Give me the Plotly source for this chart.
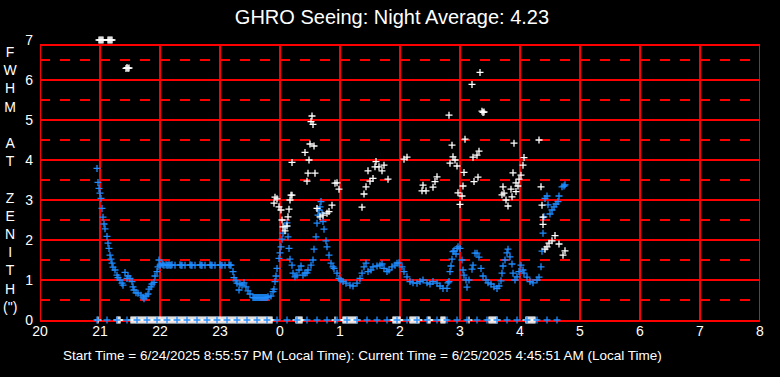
import plotly.graph_objects as go

# time axis: minutes after 20:00 local time (0..720 -> 20:00..08:00)
tick_minutes = [0, 60, 120, 180, 240, 300, 360, 420, 480, 540, 600, 660, 720]
tick_labels = ["20", "21", "22", "23", "0", "1", "2", "3", "4", "5", "6", "7", "8"]
y_ticks = [0, 1, 2, 3, 4, 5, 6, 7]

# blue series (seeing measurements)
blue_min = [57, 58, 59, 60, 61, 62, 63, 64, 65, 67, 68, 69, 70, 71, 72, 73, 75, 77, 78, 80,
            82, 83, 85, 87, 88, 90, 92, 93, 94, 96, 98, 101, 103, 104, 106, 108, 109, 111, 112, 114,
            115, 117, 118, 119, 120, 122, 123, 124,
            126, 127, 128, 129, 130, 131, 132, 135, 140, 141, 142, 145, 150, 151, 152, 155,
            160, 161, 162, 165, 170, 171, 172, 175, 180, 181, 182, 185, 189, 190, 191,
            193, 194, 196, 197, 199, 200, 202, 204, 206, 208, 210, 213, 214, 215, 216, 217, 218, 219,
            220, 221, 222, 223, 224, 225, 226, 227, 228, 231, 233, 234, 235, 236, 237, 239, 240,
            241, 242, 243, 245, 247, 248, 249, 250, 252, 253, 255, 257, 259, 261, 263, 265, 267,
            268, 271, 273, 274, 276, 277, 278, 279, 280, 281, 282, 283, 284, 286, 287, 289, 291,
            293, 294, 297, 299, 301, 303, 306, 310, 313, 317, 320, 322, 324, 326, 328, 331, 333,
            337, 340, 342, 344, 347, 349, 352, 355, 357, 359, 362, 364, 367, 370, 373, 377, 380,
            383, 387, 390, 393, 397, 400, 403, 407, 408, 409, 410, 411, 412, 413, 414, 416, 417,
            418, 420, 422, 423, 424, 426, 427, 429, 432, 433, 435, 437, 439, 441, 443, 446, 448,
            451, 454, 457, 459, 461, 462, 463, 465, 467, 468, 470, 472, 473, 475, 477, 479, 481,
            483, 484, 487, 490, 493, 497, 499, 501, 502, 503, 504, 505, 507, 508, 510, 512, 514,
            516, 518, 519, 522, 524, 525]
blue_val = [3.79, 3.44, 3.29, 3.17, 3.04, 2.79, 2.57, 2.40, 2.28, 2.09, 1.92, 1.79, 1.62, 1.52, 1.42, 1.32, 1.25, 1.12, 1.06, 1.00,
            0.92, 0.87, 1.19, 1.04, 1.10, 1.04, 0.96, 0.83, 0.75, 0.68, 0.67, 0.62, 0.57, 0.53, 0.60, 0.65, 0.77, 0.83, 0.90, 0.94,
            1.10, 1.21, 1.33, 1.50, 1.37, 1.40, 1.38, 1.37,
            1.38, 1.37, 1.37, 1.38, 1.37, 1.37, 1.38, 1.37, 1.38, 1.37, 1.37, 1.37, 1.38, 1.37, 1.37, 1.37,
            1.38, 1.37, 1.37, 1.37, 1.38, 1.37, 1.37, 1.37, 1.38, 1.37, 1.37, 1.37, 1.38, 1.37, 1.37,
            1.21, 1.06, 0.98, 0.92, 0.75, 0.90, 0.87, 0.93, 0.83, 0.73, 0.65, 0.56, 0.56, 0.56, 0.56, 0.56, 0.56, 0.56,
            0.56, 0.56, 0.56, 0.56, 0.56, 0.56, 0.56, 0.56, 0.58, 0.60, 0.71, 0.77, 0.96, 1.10, 1.29, 1.54, 1.68,
            1.83, 2.02, 2.17, 2.33, 2.43, 2.08, 1.79, 1.52, 1.37, 1.17, 1.08, 1.12, 1.25, 1.35, 1.12, 1.17, 1.18,
            1.25, 1.37, 1.50, 1.77, 2.08, 2.42, 2.62, 2.75, 2.83, 2.96, 2.67, 2.46, 2.27, 1.98, 1.83, 1.62, 1.42,
            1.33, 1.29, 1.17, 1.04, 1.00, 0.96, 0.92, 0.87, 0.85, 0.92, 1.04, 1.17, 1.33, 1.42, 1.21, 1.25, 1.33,
            1.35, 1.37, 1.40, 1.29, 1.21, 1.25, 1.33, 1.37, 1.42, 1.43, 1.33, 1.21, 1.08, 0.96, 0.93, 0.92, 0.96,
            1.00, 0.93, 0.90, 0.96, 0.92, 0.85, 0.79, 0.79, 0.93, 0.96, 1.21, 1.35, 1.52, 1.71, 1.73, 1.65, 1.79,
            1.83, 1.79, 1.50, 1.25, 1.12, 1.00, 0.82, 1.00, 1.27, 1.37, 1.67, 1.67, 1.57, 1.29, 1.10, 1.00, 0.93,
            0.90, 0.83, 0.79, 0.85, 0.98, 1.17, 1.35, 1.50, 1.68, 1.77, 1.58, 1.40, 1.17, 1.00, 1.08, 1.21, 1.37,
            1.25, 1.17, 1.07, 0.96, 0.93, 1.00, 1.07, 1.33, 1.72, 2.17, 2.58, 3.04, 3.10, 2.88, 2.65, 2.75, 2.83,
            2.90, 2.96, 3.10, 3.33, 3.35, 3.38]

# blue markers sitting on the zero line
blue_zero_min = [57, 67, 77, 87, 97, 107, 117, 127, 137, 147, 157, 167, 177, 187, 197, 207, 217, 227,
                 237, 247, 257, 267, 277, 287, 297, 307, 317, 327, 337, 347, 357, 367, 377, 387, 397,
                 407, 417, 427, 437, 447, 457, 467, 477, 487, 497, 507, 517]
blue_zero_val = [0] * len(blue_zero_min)

# white series (second seeing estimate)
white_min = [59, 60, 61, 62, 63, 68, 69, 70, 71, 72, 86, 87, 88, 89,
             234, 235, 237, 239, 241, 242, 243, 245, 247, 248, 249, 250, 251, 252, 252,
             265, 267, 268, 269, 270, 271, 272, 273, 274, 275,
             277, 280, 283, 287, 289, 292, 295, 297, 299,
             322, 324, 326, 328, 330, 333, 335, 336, 339, 342, 344, 348, 364, 367,
             382, 383, 386, 393, 395, 397, 409, 410, 412, 413, 415, 417, 418, 420, 422, 423, 424,
             425, 432, 433, 434, 437, 438, 439, 440, 442, 443, 444,
             462, 463, 464, 466, 468, 471, 472, 473, 474, 476, 476, 478, 479, 481, 483, 484,
             499, 501, 502, 503, 503, 505, 507, 509, 512, 515, 519, 523, 525]
white_val = [7.0, 7.0, 7.0, 7.0, 7.0, 7.0, 7.0, 7.0, 7.0, 7.0, 6.29, 6.31, 6.29, 6.30,
             2.92, 3.07, 3.03, 2.83, 2.75, 2.50, 2.33, 2.23, 2.35, 2.58, 2.77, 3.00, 3.12, 3.12, 3.94,
             4.19, 3.47, 3.67, 4.00, 4.40, 4.96, 5.10, 4.89, 4.35, 3.67,
             2.79, 2.58, 2.62, 2.67, 2.71, 2.87, 3.42, 3.43, 3.27,
             2.82, 3.15, 3.33, 3.73, 3.47, 3.54, 3.83, 3.96, 3.83, 3.73, 3.87, 3.52, 4.02, 4.07,
             3.23, 3.37, 3.23, 3.32, 3.46, 3.58, 5.12, 3.92, 4.37, 4.08, 4.00, 3.85, 3.18, 2.89, 3.10, 3.35, 3.69,
             4.52, 5.89, 4.07, 3.46, 4.12, 3.57, 4.22, 6.19, 5.22, 5.19, 5.20,
             3.13, 3.33, 3.17, 3.00, 2.85, 3.27, 3.08, 3.68, 4.42, 3.43, 3.21, 3.35, 3.52, 3.62, 3.87, 4.06,
             4.50, 3.33, 2.87, 2.57, 2.39, 1.77, 1.83, 1.92, 1.98, 2.11, 1.90, 1.62, 1.73]

# white readings of zero, as (first minute, last minute) runs
white_zero_runs = [(58, 58), (77, 80), (91, 232), (256, 262), (295, 295), (303, 317),
                   (353, 360), (370, 379), (388, 390), (401, 405), (429, 429), (449, 457), (486, 495)]

white_zero_min = []
for a, b in white_zero_runs:
    white_zero_min.extend(range(a, b + 1))
white_zero_val = [0] * len(white_zero_min)

# top of the framed plotting area (the scale continues a little above it)
FRAME_TOP = 6.875

BLUE = "#1E8CFF"
RED = "#FF0000"
FONT = "Liberation Sans, Arial, sans-serif"


def mk(color):
    return dict(symbol="cross-thin", size=5, line=dict(color=color, width=1.3))


fig = go.Figure()
fig.add_trace(go.Scatter(x=white_zero_min, y=white_zero_val, mode="markers", cliponaxis=False, marker=mk("white")))
fig.add_trace(go.Scatter(x=blue_min, y=blue_val, mode="markers", cliponaxis=False, marker=mk(BLUE)))
fig.add_trace(go.Scatter(x=white_min, y=white_val, mode="markers", cliponaxis=False, marker=mk("white")))
fig.add_trace(go.Scatter(x=blue_zero_min, y=blue_zero_val, mode="markers", cliponaxis=False, marker=mk(BLUE)))

fig.update_layout(
    width=780, height=377,
    paper_bgcolor="black", plot_bgcolor="black",
    margin=dict(l=40, r=20, t=40, b=57, autoexpand=False),
    showlegend=False,
    font=dict(family=FONT, color="white", size=14),
    title=dict(text="GHRO Seeing: Night Average: 4.23", x=392 / 780, xanchor="center",
               xref="container", y=1 - 17 / 377, yref="container", yanchor="middle",
               font=dict(family=FONT, size=20, color="white")),
)
fig.update_xaxes(range=[0, 720], tickvals=tick_minutes, ticktext=tick_labels,
                 showgrid=True, gridcolor=RED, gridwidth=2,
                 showline=True, linecolor=RED, linewidth=2, mirror=False, layer="below traces",
                 zeroline=False, ticks="", tickfont=dict(size=14, color="white"),
                 ticklabelstandoff=-3, automargin=False)
fig.update_yaxes(range=[0, 7], tickvals=y_ticks, ticktext=[str(v) for v in y_ticks],
                 showgrid=False,
                 minor=dict(dtick=0.5, tick0=0, showgrid=True, gridcolor=RED,
                            gridwidth=2, griddash="10px,10px"),
                 showline=False, zeroline=False, ticks="", tickfont=dict(size=14, color="white"),
                 ticklabelstandoff=6, automargin=False, layer="below traces")

# mask the strip above the frame, then draw the frame and the solid integer lines
fig.add_shape(type="rect", xref="x", yref="y", x0=0, x1=720, y0=FRAME_TOP, y1=7.05,
              fillcolor="black", line=dict(width=0), layer="between")
for v in y_ticks[1:-1]:
    fig.add_shape(type="line", xref="x", yref="y", x0=0, x1=720, y0=v, y1=v,
                  line=dict(color=RED, width=2), layer="between")
fig.add_shape(type="line", xref="x", yref="y", x0=0, x1=720, y0=FRAME_TOP, y1=FRAME_TOP,
              line=dict(color=RED, width=2), layer="between")
fig.add_shape(type="line", xref="x", yref="y", x0=0, x1=0, y0=0, y1=FRAME_TOP,
              line=dict(color=RED, width=2), layer="between")
fig.add_shape(type="line", xref="x", yref="y", x0=720, x1=720, y0=0, y1=FRAME_TOP,
              line=dict(color=RED, width=2), layer="between")

ylab = "<br>".join(["F", "W", "H", "M", "\u00a0", "A", "T", "\u00a0", "Z", "E", "N", "I", "T", "H", "(\")"])
fig.add_annotation(text=ylab, x=(11 - 40) / 720, xref="paper", xanchor="center",
                   y=(320 - 179.4) / 280, yref="paper", yanchor="middle", showarrow=False,
                   font=dict(size=14, color="white", family=FONT))

fig.add_annotation(text="Start Time = 6/24/2025 8:55:57 PM (Local Time): Current Time = 6/25/2025 4:45:51 AM (Local Time)",
                   x=(362 - 40) / 720, xref="paper", xanchor="center",
                   y=(320 - 355) / 280, yref="paper", yanchor="middle", showarrow=False,
                   font=dict(size=13.5, color="white", family=FONT))

fig.write_html("out.html", config={"displayModeBar": False},
               post_script="document.body.style.margin='0';document.body.style.background='black';")
